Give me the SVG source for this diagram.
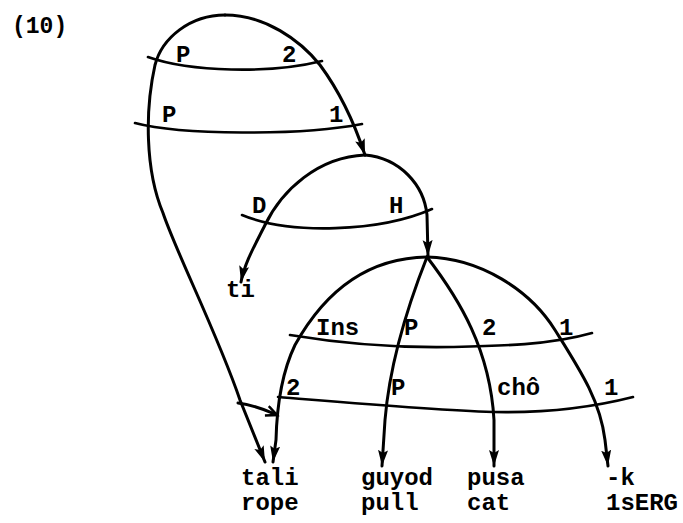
<svg xmlns="http://www.w3.org/2000/svg" width="683" height="523" viewBox="0 0 683 523">
<style>
.e{fill:none;stroke:#000;stroke-width:3;stroke-linecap:round}
.x{fill:none;stroke:#000;stroke-width:2.6;stroke-linecap:round}
text{font-family:"Liberation Mono","Courier New",monospace;font-weight:bold;font-size:24px;fill:#000}
</style>
<defs>
<marker id="a" markerUnits="userSpaceOnUse" markerWidth="18" markerHeight="12" refX="16" refY="5" orient="auto">
<path d="M0,0 L16,5 L0,10 L3,5 z" fill="#000"/>
</marker>
<marker id="o" markerUnits="userSpaceOnUse" markerWidth="16" markerHeight="14" refX="12" refY="6" orient="auto">
<path d="M1,1 L12,6 L1,11" fill="none" stroke="#000" stroke-width="2.5"/>
</marker>
</defs>
<rect width="683" height="523" fill="#fff"/>
<text x="12" y="33" style="font-size:23px">(10)</text>
<g id="connectors">
<path class="e" d="M225,15 C190,15 162,38 155,65 C145,110 145,170 163,213 C176,252 218,335 240,400 L265,462" marker-end="url(#a)"/>
<path class="e" d="M225,15 C265,15 300,40 320,65 C340,92 355,125 365,155" marker-end="url(#a)"/>
<path class="e" d="M365,155 C318,157 282,190 265,225 C255,245 245,262 241,282" marker-end="url(#a)"/>
<path class="e" d="M365,155 C400,158 424,185 427,215 L428,256" marker-end="url(#a)"/>
<path class="e" d="M427,257 C360,258 320,300 295,345 C283,370 277,400 276,440 L273,462" marker-end="url(#a)"/>
<path class="e" d="M427,257 C410,300 390,360 385,420 L382,466" marker-end="url(#a)"/>
<path class="e" d="M427,257 C460,300 490,350 494,420 L494,466" marker-end="url(#a)"/>
<path class="e" d="M427,257 C480,258 530,290 555,330 C580,370 600,400 605,440 L608,466" marker-end="url(#a)"/>
<path class="e" d="M238,403 C255,405 265,410 277,415" marker-end="url(#o)"/>
</g>
<g id="crossbars">
<path class="x" d="M148,57 C190,72 270,74 322,61"/>
<path class="x" d="M135,123 C180,135 300,136 362,124"/>
<path class="x" d="M242,215 C290,235 380,232 432,209"/>
<path class="x" d="M290,335 C350,345 400,348 453,347 C500,346 550,345 592,333"/>
<path class="x" d="M278,397 C340,402 430,410 493,412 C540,413 590,408 633,397"/>
</g>
<g id="labels">
<text x="176" y="62">P</text>
<text x="282" y="62">2</text>
<text x="162" y="122">P</text>
<text x="329" y="122">1</text>
<text x="252" y="213">D</text>
<text x="389" y="213">H</text>
<text x="316" y="335">Ins</text>
<text x="404" y="335">P</text>
<text x="482" y="335">2</text>
<text x="559" y="335">1</text>
<text x="286" y="395">2</text>
<text x="391" y="395">P</text>
<text x="497" y="395">chô</text>
<text x="604" y="395">1</text>
</g>
<g id="node-ti"><text x="226" y="297">ti</text></g>
<g id="node-tali"><text x="241" y="485">tali</text><text x="241" y="510">rope</text></g>
<g id="node-guyod"><text x="361" y="485">guyod</text><text x="361" y="510">pull</text></g>
<g id="node-pusa"><text x="467" y="485">pusa</text><text x="467" y="510">cat</text></g>
<g id="node-k"><text x="606" y="485">-k</text><text x="606" y="510">1sERG</text></g>
</svg>
